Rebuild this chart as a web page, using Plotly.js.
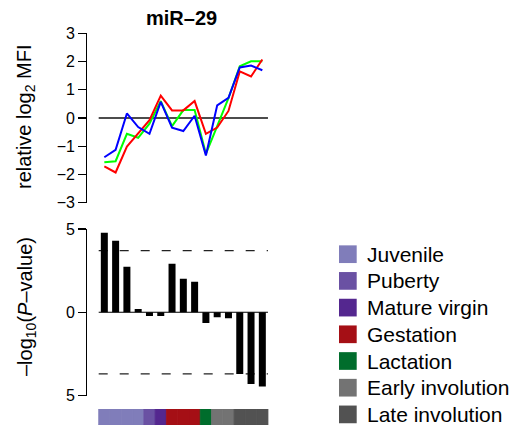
<!DOCTYPE html>
<html>
<head>
<meta charset="utf-8">
<script src="https://cdn.plot.ly/plotly-3.0.1.min.js"></script>
<style>html,body{margin:0;padding:0;background:#fff;}#chart{width:515px;height:425px;}</style>
</head>
<body>
<div id="chart"></div>
<script>
// ---- data ----
const samples = [0,1,2,3,4,5,6,7,8,9,10,11,12,13,14];
const sampleStage = ['Juvenile','Juvenile','Juvenile','Juvenile','Puberty','Mature virgin',
  'Gestation','Gestation','Gestation','Lactation','Early involution','Early involution',
  'Late involution','Late involution','Late involution'];
const stageNames = ['Juvenile','Puberty','Mature virgin','Gestation','Lactation','Early involution','Late involution'];
const stageColors = ['#807dba','#6a51a3','#54278f','#a50f15','#006d2c','#737373','#525252'];
const redSeries   = [-1.71,-1.93,-1.01,-0.56,-0.08,0.79,0.27,0.27,0.60,-0.56,-0.34,0.25,1.65,1.47,2.07];
const greenSeries = [-1.57,-1.53,-0.56,-0.70,-0.20,0.60,-0.29,0.28,0.28,-1.27,-0.29,0.70,1.83,2.01,2.01];
const blueSeries  = [-1.39,-1.13,0.16,-0.32,-0.56,0.57,-0.34,-0.46,0.08,-1.33,0.45,0.71,1.79,1.86,1.69];
const logP = [4.78,4.30,2.74,0.20,-0.22,-0.22,2.92,2.02,1.84,-0.64,-0.30,-0.36,-3.70,-4.30,-4.46];
const threshold = 3.7;
const topTicks = [-3,-2,-1,0,1,2,3];
const bottomTicks = [-5,0,5];
const bottomTickText = ['5','0','5'];
const chartTitle = '<b>miR–29</b>';
const topYTitle = 'relative log<sub>2</sub> MFI';
const bottomYTitle = '–log<sub>10</sub>(<i>P</i>–value)';

// ---- layout helpers ----
const W = 515, H = 425;
const px = p => p / W;
const py = p => 1 - p / H;
const FONT = 'Liberation Sans, Arial, Helvetica, sans-serif';

const colorOf = s => stageColors[stageNames.indexOf(s)];
const stripColors = sampleStage.map(colorOf);

const traces = [
  {x: samples, y: greenSeries, xaxis:'x', yaxis:'y', type:'scatter', mode:'lines',
   line:{color:'#00ff00', width:2}, showlegend:false, hoverinfo:'skip'},
  {x: samples, y: redSeries, xaxis:'x', yaxis:'y', type:'scatter', mode:'lines',
   line:{color:'#ff0000', width:2}, showlegend:false, hoverinfo:'skip'},
  {x: samples, y: blueSeries, xaxis:'x', yaxis:'y', type:'scatter', mode:'lines',
   line:{color:'#0000ff', width:2}, showlegend:false, hoverinfo:'skip'},
  {x: samples, y: logP, xaxis:'x2', yaxis:'y2', type:'bar', width:0.62,
   marker:{color:'#000000', line:{width:0}}, showlegend:false, hoverinfo:'skip'},
  {x: samples, y: samples.map(() => 1), xaxis:'x3', yaxis:'y3', type:'bar', width:1,
   marker:{color: stripColors, line:{width:0.8, color: stripColors}}, showlegend:false, hoverinfo:'skip'}
];

const xDomain = [px(87.4), px(269.1)];
const xRange = [-1.5, 14.6];
const hiddenX = (anchor) => ({domain:xDomain, range:xRange, anchor:anchor, showline:false,
  showticklabels:false, ticks:'', showgrid:false, zeroline:false, fixedrange:true});

const yCommon = {showline:true, linecolor:'#000', linewidth:1.3, ticks:'outside', ticklen:8,
  tickwidth:1.3, tickcolor:'#000', showgrid:false, zeroline:false,
  tickfont:{family:FONT, size:16, color:'#000'}, fixedrange:true};

const shapes = [
  {type:'line', xref:'x', yref:'y', x0:-0.5, x1:14.5, y0:0, y1:0, line:{color:'#111', width:1.3}, layer:'below'},
  {type:'line', xref:'x2', yref:'y2', x0:-0.5, x1:14.5, y0:0, y1:0, line:{color:'#000', width:1.1}, layer:'below'},
  {type:'line', xref:'x2', yref:'y2', x0:-0.5, x1:14.5, y0:threshold, y1:threshold, line:{color:'#222', width:1.3, dash:'9px,12px'}, layer:'below'},
  {type:'line', xref:'x2', yref:'y2', x0:-0.5, x1:14.5, y0:-threshold, y1:-threshold, line:{color:'#222', width:1.3, dash:'9px,12px'}, layer:'below'}
];

const annotations = [
  {text: chartTitle, xref:'paper', yref:'paper', x:px(181), y:py(18), xanchor:'center', yanchor:'middle',
   showarrow:false, font:{family:FONT, size:20, color:'#000'}},
  {text: topYTitle, xref:'paper', yref:'paper', x:px(26), y:py(117), xanchor:'center', yanchor:'middle',
   textangle:-90, showarrow:false, font:{family:FONT, size:20, color:'#000'}},
  {text: bottomYTitle, xref:'paper', yref:'paper', x:px(26), y:py(307), xanchor:'center', yanchor:'middle',
   textangle:-90, showarrow:false, font:{family:FONT, size:20, color:'#000'}}
];

// legend (manual, built from stage arrays)
stageNames.forEach((name, i) => {
  const cy = 254.2 + 26.7 * i;
  shapes.push({type:'rect', xref:'paper', yref:'paper', x0:px(339), x1:px(356.7),
    y0:py(cy + 8.85), y1:py(cy - 8.85), fillcolor:stageColors[i], line:{width:0}});
  annotations.push({text:name, xref:'paper', yref:'paper', x:px(365), y:py(cy),
    xanchor:'left', yanchor:'middle', showarrow:false, font:{family:FONT, size:21, color:'#000'}});
});

const layout = {
  width: W, height: H,
  margin:{l:0, r:0, t:0, b:0},
  paper_bgcolor:'#fff', plot_bgcolor:'rgba(0,0,0,0)',
  showlegend:false,
  xaxis: hiddenX('y'),
  xaxis2: hiddenX('y2'),
  xaxis3: hiddenX('y3'),
  yaxis: Object.assign({}, yCommon, {domain:[py(202.7), py(33.3)], range:[-3,3], tickvals:topTicks, anchor:'x'}),
  yaxis2: Object.assign({}, yCommon, {domain:[py(395.6), py(229)], range:[-5,5], tickvals:bottomTicks, ticktext:bottomTickText, anchor:'x2'}),
  yaxis3: {domain:[0, py(409)], range:[0,1], anchor:'x3', visible:false, fixedrange:true},
  shapes: shapes,
  annotations: annotations,
  font:{family:FONT, color:'#000'}
};

Plotly.newPlot('chart', traces, layout, {displayModeBar:false, staticPlot:true});
</script>
</body>
</html>
